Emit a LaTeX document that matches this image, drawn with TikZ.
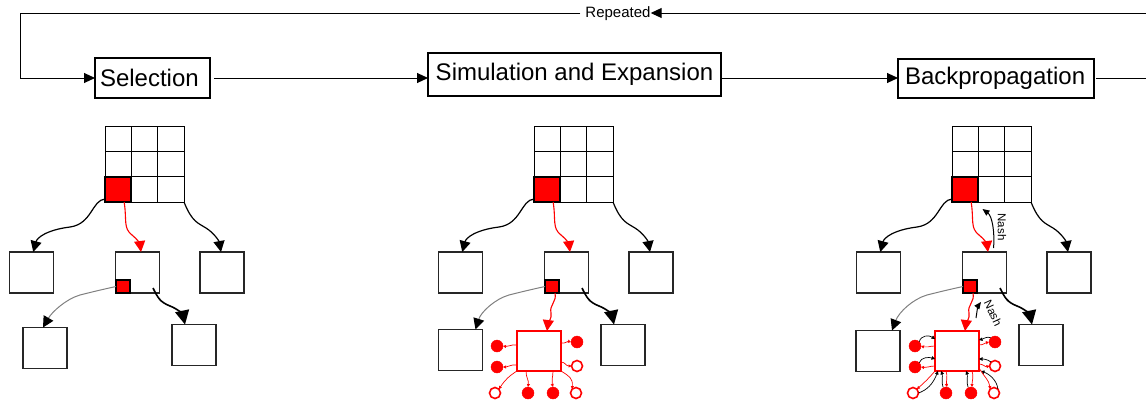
\documentclass[tikz,border=0pt]{standalone}
\usepackage{fontspec}
\setmainfont{Liberation Sans}
\usetikzlibrary{arrows.meta}
\tikzset{
  stage/.style={draw=black, line width=1.1pt, inner ysep=0pt, outer sep=0pt, align=left, font=\fontsize{24}{28}\selectfont},
  arr/.style={-{Triangle[length=11pt,width=10pt]}, line width=1pt},
  box/.style={draw=black!85, line width=1.3pt, fill=white, inner sep=0pt, outer sep=0pt, minimum width=44pt, minimum height=41pt},
  gridnode/.style={inner sep=0pt, outer sep=0pt, minimum width=79pt, minimum height=76pt},
  gridline/.style={line width=1pt},
  redcell/.style={draw=black, fill=red, line width=2pt, inner sep=0pt, outer sep=0pt, minimum width=26.3pt, minimum height=25.3pt},
  smallred/.style={draw=black, fill=red, line width=1.2pt, inner sep=0pt, outer sep=0pt, minimum width=14pt, minimum height=13pt},
  tarr/.style={-{Triangle[length=11pt,width=11pt]}, line width=1.2pt},
  bigarr/.style={-{Triangle[length=14pt,width=14pt]}, line width=1.6pt},
  redarr/.style={red, -{Triangle[length=11pt,width=11pt]}, line width=1.1pt},
  grayarr/.style={gray, -{Triangle[length=11pt,width=11pt,color=black]}, line width=1pt},
  exbox/.style={draw=red, line width=1.3pt, fill=white, inner sep=0pt, outer sep=0pt, minimum width=44pt, minimum height=40pt},
  fdot/.style={circle, fill=red, draw=red, minimum size=12pt, inner sep=0pt, outer sep=0pt},
  odot/.style={circle, draw=red, line width=1.6pt, fill=white, minimum size=11pt, inner sep=0pt, outer sep=0pt},
  tinyred/.style={red, line width=0.7pt, -{Triangle[length=3pt,width=3pt]}},
  tinyblk/.style={black, line width=0.7pt, -{Triangle[length=3.5pt,width=3.5pt]}},
  nasharr/.style={black, line width=1pt, -{Triangle[length=7pt,width=6pt]}},
  nash/.style={font=\fontsize{11.5}{12}\selectfont, inner sep=0pt}
}
% #1 = centre of the lower-left grandchild, #2 = x shift of the grey arrow tip
\newcommand\treebase[2]{%
  \node[box] (c1) at (31.25,272.5) {};
  \node[box] (c2) at (137.5,272.5) {};
  \node[box] (c3) at (222,272.5) {};
  \node[box] (g1) at #1 {};
  \node[box] (g2) at (194,345) {};
  \node[smallred] (s) at (123,286.5) {};
  \node[gridnode] (grid) at (144.5,164) {};
  \draw[gridline] (grid.north west) rectangle (grid.south east);
  \draw[gridline] (131.3,126) -- (131.3,202) (157.7,126) -- (157.7,202)
                  (105,151.3) -- (184,151.3) (105,176.7) -- (184,176.7);
  \node[redcell] (rc) at (118.15,189.35) {};
  \draw[tarr] ([yshift=3pt]rc.south west) .. controls (92,200) and (92,224) .. (70,227)
        .. controls (46,230) and (37,238) .. ([xshift=2pt]c1.north);
  \draw[redarr] ([xshift=6pt]rc.south) .. controls (127,220) and (123,228) .. (132,235)
        .. controls (138,240) and (140,244) .. ([xshift=3.5pt]c2.north);
  \draw[tarr] (grid.south east) .. controls (192,222) and (198,223) .. (206,228)
        .. controls (214,233) and (219,241) .. ([xshift=-1pt]c3.north);
  \draw[grayarr] (s.west) .. controls (100,290) and (92,292) .. (80,295)
        .. controls (66,299) and (52,312) .. ([xshift=#2]g1.north);
  \draw[bigarr] ([xshift=15.5pt,yshift=5pt]c2.south) .. controls (158,298) and (160,302) .. (170,306)
        .. controls (178,309) and (183,315) .. ([xshift=-9pt]g2.north);
}
\newcommand\treeexp{%
  \node[exbox] (e) at (110,351) {};
  \draw[redarr] ([xshift=3pt]s.south) .. controls (128,302) and (120,305) .. (122,313)
        .. controls (123,319) and (119,323) .. ([xshift=8pt]e.north);
  \node[fdot] (d1) at (68,346) {};
  \node[fdot] (d2) at (68,367) {};
  \node[fdot] (d3) at (148,342) {};
  \node[odot] (d4) at (148,366) {};
  \node[odot] (d5) at (66,393) {};
  \node[fdot] (d6) at (99,393) {};
  \node[fdot] (d7) at (124,393) {};
  \node[odot] (d8) at (147,393) {};
}
\begin{document}
\begin{tikzpicture}[x=1pt,y=-1pt]
\useasboundingbox (0,0) rectangle (1146,402);
% stages
\node[stage, text width=105pt, inner xsep=5pt, minimum height=40pt] (sel) at (152.5,78) {Selection};
\node[stage, inner xsep=0pt, minimum width=293pt, minimum height=43pt] (sim) at (574.5,74.5) {Simulation and Expansion};
\draw[line width=2.6pt] (sim.north west) -- (sim.south west) (sim.north east) -- (sim.south east);
\node[stage, text width=182pt, inner xsep=7pt, minimum height=39pt] (bp) at (996,78.5) {Backpropagation};
\node[font=\fontsize{15}{16}\selectfont, inner sep=0pt] (rep) at (618,13.5) {Repeated};
\coordinate (lt) at (20,13);
\coordinate (lb) at (20,78);
\coordinate (rt) at (1150,13);
\coordinate (rb) at (1150,78.5);
\draw[arr] ([xshift=4pt]sel.east) -- (sel.east -| sim.west);
\draw[arr] (sim.east |- sel.east) -- (sel.east -| bp.west);
\draw[arr] ([xshift=2pt]bp.east) -- (rb) -- (rt) -- (rep.east |- rt);
\draw[arr] ([xshift=-5pt]rep.west |- lt) -- (lt) -- (lb) -- (sel.west);
% tree 1
\begin{scope}[name prefix=A-]
  \treebase{(45,348)}{-2pt}
\end{scope}
% tree 2
\begin{scope}[shift={(429,0)}, name prefix=B-]
  \treebase{(31.5,350)}{15pt}
  \treeexp
  \draw[tinyred] ([yshift=6pt]e.west) .. controls (82,344) and (80,347) .. (d1.east);
  \draw[tinyred] ([yshift=-14pt]e.west) .. controls (82,364) and (80,367) .. (d2.east);
  \draw[tinyred] ([yshift=8pt]e.east) .. controls (136,344) and (138,341) .. (d3.west);
  \draw[tinyred] ([yshift=-11pt]e.east) .. controls (136,362) and (137,366) .. (d4.west);
  \draw[tinyred] (e.south west) .. controls (80,376) and (76,380) .. (d5.north east);
  \draw[tinyred] ([xshift=-13pt]e.south) .. controls (97,378) and (100,380) .. (d6.north);
  \draw[tinyred] ([xshift=14pt]e.south) .. controls (124,378) and (122,380) .. (d7.north);
  \draw[tinyred] (e.south east) .. controls (140,376) and (144,378) .. (d8.north west);
\end{scope}
% tree 3
\begin{scope}[shift={(847,0)}, name prefix=C-]
  \treebase{(31,351)}{14pt}
  \treeexp
  \draw[tinyred] ([yshift=5pt]e.west) .. controls (82,346) and (80,348) .. (d1.east);
  \draw[tinyblk] (d1.north east) .. controls (74,335) and (82,335) .. ([yshift=12pt]e.west);
  \draw[tinyred] ([yshift=-15pt]e.west) .. controls (82,366) and (80,368) .. (d2.east);
  \draw[tinyblk] (d2.north east) .. controls (74,357) and (82,357) .. ([yshift=-8pt]e.west);
  \draw[tinyred] ([yshift=6pt]e.east) .. controls (136,345) and (138,343) .. (d3.west);
  \draw[tinyblk] (d3.north west) .. controls (140,336) and (136,339) .. ([yshift=11pt]e.east);
  \draw[tinyred] ([yshift=-13pt]e.east) .. controls (136,364) and (138,367) .. (d4.west);
  \draw[tinyblk] (d4.north west) .. controls (140,359) and (136,359) .. ([yshift=-8pt]e.east);
  \draw[tinyred] (e.south west) .. controls (82,378) and (78,382) .. (d5.north east);
  \draw[tinyblk] (d5.east) .. controls (80,390) and (86,384) .. ([xshift=3pt]e.south west);
  \draw[tinyblk] ([xshift=-3pt]d6.north) .. controls (94,382) and (96,376) .. ([xshift=-16pt]e.south);
  \draw[tinyred] ([xshift=-11pt]e.south) .. controls (101,376) and (99,382) .. ([xshift=1pt]d6.north);
  \draw[tinyblk] ([xshift=-3pt]d7.north) .. controls (119,382) and (121,376) .. ([xshift=9pt]e.south);
  \draw[tinyred] ([xshift=15pt]e.south) .. controls (127,376) and (125,382) .. ([xshift=1pt]d7.north);
  \draw[tinyblk] (d8.north east) .. controls (150,380) and (142,374) .. ([xshift=2pt]e.south east);
  \draw[tinyred] ([yshift=3pt]e.south east) .. controls (138,378) and (142,380) .. (d8.north west);
  % Nash arrows
  \draw[nasharr] ([xshift=9pt,yshift=4pt]c2.north) .. controls (148,232) and (145,216) .. ([xshift=-9pt,yshift=-7pt]grid.south);
  \node[nash, rotate=-90] (n1) at (155,227) {Nash};
  \coordinate (n2s) at (129,318);
  \draw[nasharr] (n2s) .. controls (130,311) and (131,306) .. (134,302);
  \node[nash, rotate=-65] (n2) at (146,313) {Nash};
\end{scope}
\end{tikzpicture}
\end{document}
